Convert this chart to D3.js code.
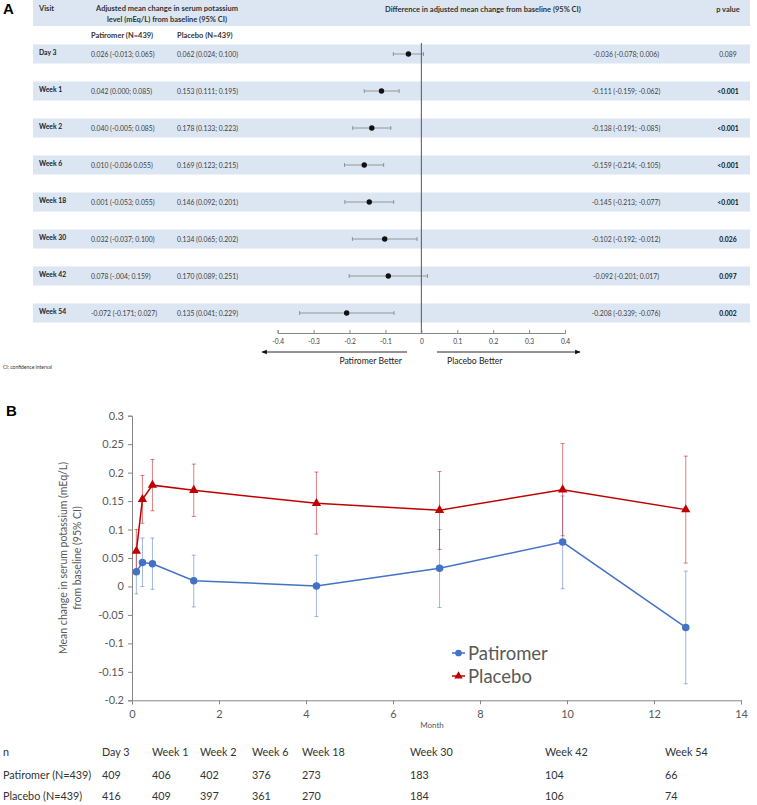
<!DOCTYPE html>
<html><head><meta charset="utf-8">
<script src="https://cdn.jsdelivr.net/npm/d3@7"></script>
<style>body{margin:0;background:#fff}svg{display:block;font-family:Lato,"Open Sans",sans-serif}</style>
</head><body><svg id="c" width="757" height="805"></svg>
<script>
// ---------- DATA ----------
const visits = ["Day 3","Week 1","Week 2","Week 6","Week 18","Week 30","Week 42","Week 54"];
const months = [0.1,0.24,0.47,1.42,4.24,7.07,9.9,12.73];
const patMean = [0.026,0.042,0.040,0.010,0.001,0.032,0.078,-0.072];
const patLo   = [-0.013,0.000,-0.005,-0.036,-0.053,-0.037,-0.004,-0.171];
const patHi   = [0.065,0.085,0.085,0.055,0.055,0.100,0.159,0.027];
const plaMean = [0.062,0.153,0.178,0.169,0.146,0.134,0.170,0.135];
const plaLo   = [0.024,0.111,0.133,0.123,0.092,0.065,0.089,0.041];
const plaHi   = [0.100,0.195,0.223,0.215,0.201,0.202,0.251,0.229];
const diffMean = [-0.036,-0.111,-0.138,-0.159,-0.145,-0.102,-0.092,-0.208];
const diffLo   = [-0.078,-0.159,-0.191,-0.214,-0.213,-0.192,-0.201,-0.339];
const diffHi   = [0.006,-0.062,-0.085,-0.105,-0.077,-0.012,0.017,-0.076];
const patText = ["0.026 (-0.013; 0.065)","0.042 (0.000; 0.085)","0.040 (-0.005; 0.085)","0.010 (-0.036 0.055)","0.001 (-0.053; 0.055)","0.032 (-0.037; 0.100)","0.078 (-.004; 0.159)","-0.072 (-0.171; 0.027)"];
const plaText = ["0.062 (0.024; 0.100)","0.153 (0.111; 0.195)","0.178 (0.133; 0.223)","0.169 (0.123; 0.215)","0.146 (0.092; 0.201)","0.134 (0.065; 0.202)","0.170 (0.089; 0.251)","0.135 (0.041; 0.229)"];
const diffText = ["-0.036 (-0.078; 0.006)","-0.111 (-0.159; -0.062)","-0.138 (-0.191; -0.085)","-0.159 (-0.214; -0.105)","-0.145 (-0.213; -0.077)","-0.102 (-0.192; -0.012)","-0.092 (-0.201; 0.017)","-0.208 (-0.339; -0.076)"];
const pValues = ["0.089","<0.001","<0.001","<0.001","<0.001","0.026","0.097","0.002"];
const forestTicks = [-0.4,-0.3,-0.2,-0.1,0,0.1,0.2,0.3,0.4];
const patN = [409,406,402,376,273,183,104,66];
const plaN = [416,409,397,361,270,184,106,74];
const seriesNames = ["Patiromer","Placebo"];

// ---------- LAYOUT ----------
const svg = d3.select("#c");
const band = "#DCE6F2", txt = "#404040";

// ===== Panel A =====
svg.append("text").attr("x",3).attr("y",14).attr("font-size",15).attr("font-weight","bold")
  .attr("font-family","Liberation Sans, Arial").text("A");
svg.append("rect").attr("x",33).attr("y",0).attr("width",717).attr("height",26).attr("fill",band);
const hdr = svg.append("g").attr("font-size",7.5).attr("font-weight","bold").attr("fill","#333");
hdr.append("text").attr("x",39).attr("y",11).text("Visit");
hdr.append("text").attr("x",167).attr("y",11).attr("text-anchor","middle").text("Adjusted mean change in serum potassium");
hdr.append("text").attr("x",167).attr("y",22).attr("text-anchor","middle").text("level (mEq/L) from baseline (95% CI)");
hdr.append("text").attr("x",385).attr("y",12).text("Difference in adjusted mean change from baseline (95% CI)");
hdr.append("text").attr("x",728).attr("y",12).attr("text-anchor","middle").text("p value");
hdr.append("text").attr("x",91).attr("y",38).text("Patiromer (N=439)");
hdr.append("text").attr("x",177).attr("y",38).text("Placebo (N=439)");

const yRow = d3.scalePoint().domain(visits).range([54,313]);
const xF = d3.scaleLinear().domain([-0.4,0.4]).range([277.7,565]);

const rows = svg.append("g").selectAll("g").data(visits).join("g")
  .attr("transform",d=>`translate(0,${yRow(d)})`);
rows.append("rect").attr("x",33).attr("y",-9.5).attr("width",717).attr("height",19).attr("fill",band);
rows.append("text").attr("x",39).attr("y",0.5).attr("font-size",6.8).attr("font-weight","bold").attr("fill","#222")
  .text(d=>d);
rows.append("text").attr("x",91).attr("y",3).attr("font-size",6.8).attr("fill",txt).text((d,i)=>patText[i]);
rows.append("text").attr("x",177).attr("y",3).attr("font-size",6.8).attr("fill",txt).text((d,i)=>plaText[i]);
rows.append("text").attr("x",626).attr("y",3).attr("text-anchor","middle").attr("font-size",6.8).attr("fill",txt).text((d,i)=>diffText[i]);
rows.append("text").attr("x",728).attr("y",3).attr("text-anchor","middle").attr("font-size",6.8)
  .attr("font-weight",(d,i)=>i>0?"bold":"normal").attr("fill",(d,i)=>i>0?"#111":txt).text((d,i)=>pValues[i]);

// zero line
svg.append("line").attr("x1",xF(0)).attr("x2",xF(0)).attr("y1",43).attr("y2",333).attr("stroke","#555").attr("stroke-width",1);

// CIs
const ci = rows.append("g").attr("stroke","#808080").attr("stroke-width",0.8);
ci.append("line").attr("x1",(d,i)=>xF(diffLo[i])).attr("x2",(d,i)=>xF(diffHi[i])).attr("y1",0).attr("y2",0);
ci.append("line").attr("x1",(d,i)=>xF(diffLo[i])).attr("x2",(d,i)=>xF(diffLo[i])).attr("y1",-2).attr("y2",2);
ci.append("line").attr("x1",(d,i)=>xF(diffHi[i])).attr("x2",(d,i)=>xF(diffHi[i])).attr("y1",-2).attr("y2",2);
rows.append("circle").attr("cx",(d,i)=>xF(diffMean[i])).attr("cy",0).attr("r",2.7).attr("fill","#111");

// forest axis
const fAxis = svg.append("g").attr("transform","translate(0,333)")
  .call(d3.axisBottom(xF).tickValues(forestTicks).tickSize(-3).tickPadding(6)
    .tickFormat(d=>d===0?"0":d.toFixed(1)));
fAxis.select(".domain").attr("stroke","#888");
fAxis.selectAll(".tick line").attr("stroke","#888");
fAxis.selectAll(".tick text").attr("font-size",6.6).attr("fill",txt).attr("font-family","Lato");

// arrows
const defs = svg.append("defs");
defs.append("marker").attr("id","ah").attr("viewBox","0 0 10 10").attr("refX",9).attr("refY",5)
  .attr("markerWidth",6).attr("markerHeight",6).attr("orient","auto-start-reverse")
  .append("path").attr("d","M0,1L10,5L0,9Z").attr("fill","#111");
svg.append("line").attr("x1",407).attr("x2",262).attr("y1",352).attr("y2",352).attr("stroke","#111").attr("stroke-width",0.9).attr("marker-end","url(#ah)");
svg.append("line").attr("x1",437).attr("x2",580).attr("y1",352).attr("y2",352).attr("stroke","#111").attr("stroke-width",0.9).attr("marker-end","url(#ah)");
svg.append("text").attr("x",402).attr("y",364).attr("text-anchor","end").attr("font-size",8.6).attr("fill","#222").text("Patiromer Better");
svg.append("text").attr("x",447).attr("y",364).attr("font-size",8.6).attr("fill","#222").text("Placebo Better");
svg.append("text").attr("x",3).attr("y",369).attr("font-size",5).attr("fill","#333").text("CI: confidence interval");

// ===== Panel B =====
svg.append("text").attr("x",6).attr("y",416).attr("font-size",15).attr("font-weight","bold")
  .attr("font-family","Liberation Sans, Arial").text("B");
const x = d3.scaleLinear().domain([0,14]).range([132,741]);
const y = d3.scaleLinear().domain([-0.2,0.3]).range([700.3,415.7]);
const axCol = "#868686", lab = "#595959";

const yAx = svg.append("g").attr("transform","translate(132,0)")
  .call(d3.axisLeft(y).tickValues(d3.range(-0.2,0.3001,0.05)).tickSize(4).tickPadding(4)
    .tickFormat(d=>String(+d.toFixed(2))));
const xAx = svg.append("g").attr("transform","translate(0,700.3)")
  .call(d3.axisBottom(x).tickValues(d3.range(0,15,2)).tickSize(4).tickPadding(6).tickFormat(d=>d));
[yAx,xAx].forEach(a=>{
  a.select(".domain").attr("stroke",axCol);
  a.selectAll(".tick line").attr("stroke",axCol);
  a.selectAll(".tick text").attr("font-size",11).attr("fill",lab).attr("font-family","Lato");
});
svg.append("text").attr("x",432).attr("y",728).attr("text-anchor","middle").attr("font-size",8).attr("fill",lab).text("Month");
const yt = svg.append("text").attr("transform",`translate(67,${y(0.05)}) rotate(-90)`).attr("text-anchor","middle")
  .attr("font-size",10.5).attr("fill",lab);
yt.append("tspan").attr("x",0).attr("dy",0).text("Mean change in serum potassium (mEq/L)");
yt.append("tspan").attr("x",0).attr("dy",14).text("from baseline (95% CI)");

const series = [
  {name:seriesNames[0], mean:patMean, lo:patLo, hi:patHi, color:"#4472C4", bar:"rgba(68,114,196,0.5)", shape:d3.symbolCircle, size:44},
  {name:seriesNames[1], mean:plaMean, lo:plaLo, hi:plaHi, color:"#C00000", bar:"rgba(192,0,0,0.5)", shape:d3.symbolTriangle, size:38}
];
const line = d3.line().x(d=>x(d[0])).y(d=>y(d[1]));
series.forEach(s=>{
  const g = svg.append("g");
  const eb = g.append("g").attr("stroke",s.bar).attr("stroke-width",1);
  months.forEach((m,i)=>{
    eb.append("line").attr("x1",x(m)).attr("x2",x(m)).attr("y1",y(s.lo[i])).attr("y2",y(s.hi[i]));
    eb.append("line").attr("x1",x(m)-2).attr("x2",x(m)+2).attr("y1",y(s.lo[i])).attr("y2",y(s.lo[i]));
    eb.append("line").attr("x1",x(m)-2).attr("x2",x(m)+2).attr("y1",y(s.hi[i])).attr("y2",y(s.hi[i]));
  });
});
series.forEach(s=>{
  const pts = months.map((m,i)=>[m,s.mean[i]]);
  svg.append("path").attr("d",line(pts)).attr("fill","none").attr("stroke",s.color).attr("stroke-width",1.5);
  svg.append("g").selectAll("path").data(pts).join("path")
    .attr("transform",d=>`translate(${x(d[0])},${y(d[1])})`)
    .attr("d",d3.symbol().type(s.shape).size(s.size)).attr("fill",s.color);
});
// legend
series.forEach((s,i)=>{
  const ly = 653 + i*23;
  const g = svg.append("g").attr("transform",`translate(452,${ly})`);
  g.append("line").attr("x1",0).attr("x2",13).attr("stroke",s.color).attr("stroke-width",1.5);
  g.append("path").attr("transform","translate(6.5,0)").attr("d",d3.symbol().type(s.shape).size(s.size*0.8)).attr("fill",s.color);
  g.append("text").attr("x",16).attr("y",6.5).attr("font-size",18.5).attr("fill",lab).text(s.name);
});

// ===== n table =====
const colX = [102,152,200,252,302,410,545,665];
const tbl = svg.append("g").attr("font-size",10.8).attr("fill","#333");
const rowsY = [752,775,796];
tbl.append("text").attr("x",3).attr("y",rowsY[0]+4).text("n");
tbl.append("text").attr("x",3).attr("y",rowsY[1]+4).text(seriesNames[0]+" (N=439)");
tbl.append("text").attr("x",3).attr("y",rowsY[2]+4).text(seriesNames[1]+" (N=439)");
visits.forEach((v,i)=>{
  tbl.append("text").attr("x",colX[i]).attr("y",rowsY[0]+4).text(v);
  tbl.append("text").attr("x",colX[i]).attr("y",rowsY[1]+4).text(patN[i]);
  tbl.append("text").attr("x",colX[i]).attr("y",rowsY[2]+4).text(plaN[i]);
});
</script></body></html>
